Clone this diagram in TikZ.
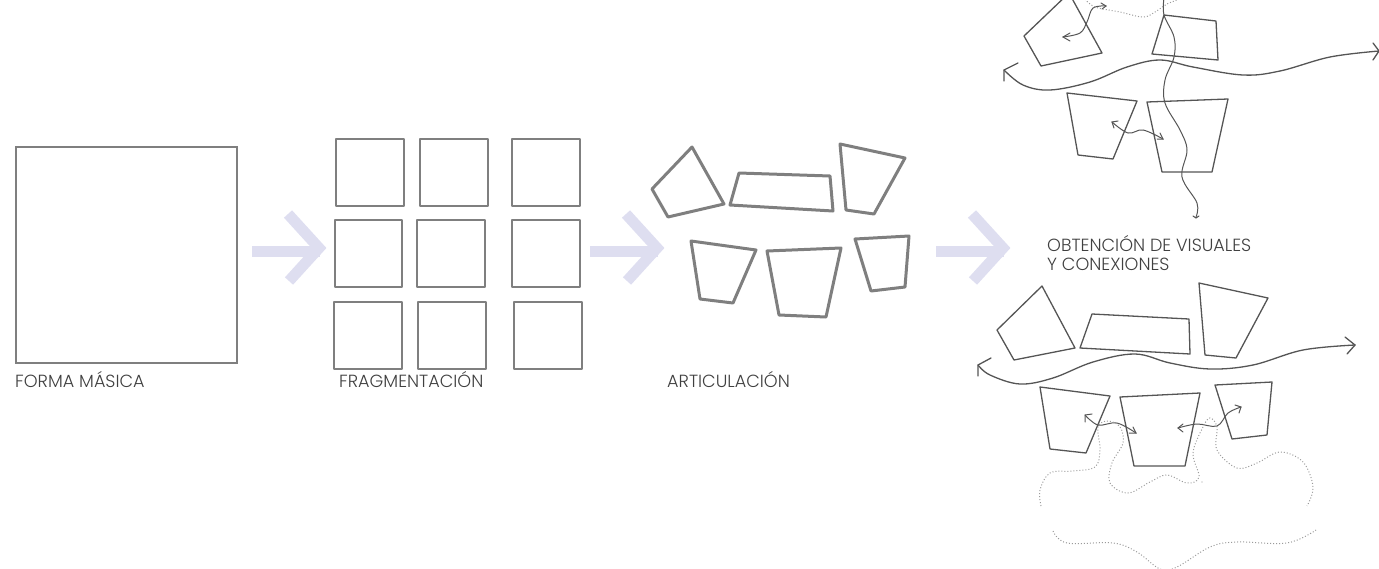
\documentclass[tikz,border=0pt]{standalone}
\usepackage{fontspec}
\setmainfont{Poppins Light}
\definecolor{lav}{HTML}{DEDEF0}
\definecolor{thickg}{HTML}{7F7F7F}
\definecolor{thing}{HTML}{555555}
\definecolor{dotg}{HTML}{9A9A9A}
\tikzset{
  sq/.style={draw=thickg,line width=2.6pt,line join=miter},
  frag/.style={draw=thickg,line width=2.6pt,line join=round},
  art/.style={draw=thickg,line width=3pt,line join=round},
  thin poly/.style={draw=thing,line width=1.3pt,line join=round},
  flow/.style={draw=thing,line width=1.3pt,line cap=round},
  slim/.style={draw=thing,line width=1pt,line cap=round},
  dots/.style={draw=dotg,line width=1pt,dash pattern=on 1pt off 2pt},
  big arrow/.style={draw=lav,line width=11pt},
  lbl/.style={anchor=base west,inner sep=0pt,font=\fontsize{17.6}{20}\selectfont,text=black!75},
}
\begin{document}
\begin{tikzpicture}[x=1pt,y=-1pt]
\useasboundingbox (0,0) rectangle (1379,568);
\clip (0,0) rectangle (1379,568);
% big square
\draw[sq] (16,147) rectangle (237,363);
% fragments
\foreach \x/\y/\w/\h in {336/139/68/67,420/139/68/67,512/139/68/67,335/220/67/67,417/220/68/67,512/220/68/67,334/302/68/67,418/302/68/67,514/302/68/67}
  \draw[frag] (\x,\y) rectangle ++(\w,\h);
% lavender arrows
\foreach \x in {252,590,936}{
  \draw[big arrow] (\x,251.5) -- ++(68,0);
  \draw[big arrow,line join=miter] (\x+36,214) -- (\x+67,248) -- (\x+37,281);
}
% articulation
\draw[art] (692,147)--(724,204)--(668,217)--(652,189)--cycle;
\draw[art] (739,173)--(830,176)--(833,211)--(730,205)--cycle;
\draw[art] (840,144)--(905,158)--(874,214)--(846,210)--cycle;
\draw[art] (691,241)--(756,250)--(733,303)--(700,299)--cycle;
\draw[art] (767,251)--(841,248)--(826,317)--(779,315)--cycle;
\draw[art] (855,239)--(909,236)--(905,287)--(871,291)--cycle;
% top-right polygons
\draw[thin poly] (1069,-7)--(1102,53)--(1041,66)--(1024,36)--cycle;
\draw[thin poly] (1164,15)--(1216,21)--(1218,60)--(1152,54)--cycle;
\draw[thin poly] (1067,93)--(1137,101)--(1113,159)--(1078,155)--cycle;
\draw[thin poly] (1147,102)--(1228,99)--(1212,172)--(1162,172)--cycle;
% top flows
\draw[flow] plot[smooth,tension=.6] coordinates {(1004,70)(1023,85)(1050,90)(1090,82)(1127,67)(1160,60)(1193,67)(1243,75)(1280,71)(1330,57)(1379,51)};
\draw[flow] (1018,63)--(1004,70)--(1004,81);
\draw[flow] (1373,43)--(1379,51)--(1373,60);
\draw[slim] plot[smooth,tension=.6] coordinates {(1164,-2)(1164,15)(1174,37)(1174,57)(1165,80)(1165,103)(1180,130)(1187,150)(1182,177)(1197,203)(1196,217)};
\draw[slim] (1193,216)--(1196,218)--(1199,216);
\draw[slim] plot[smooth,tension=.6] coordinates {(1063,37)(1080,33)(1087,22)(1093,8)(1106,6)};
\draw[slim] (1070,33)--(1063,37)--(1070,41);
\draw[slim] (1101,3)--(1106,6)--(1102,9);
\draw[slim] plot[smooth,tension=.6] coordinates {(1112,122)(1128,133)(1143,130)(1163,139)};
\draw[slim] (1118,121)--(1112,122)--(1114,128);
\draw[slim] (1160,133)--(1163,139)--(1157,139);
\draw[dots] plot[smooth,tension=.6] coordinates {(1085,-1)(1095,7)(1120,12)(1143,17)(1155,12)(1167,4)(1180,-1)};
% lower polygons
\draw[thin poly] (1042,286)--(1075,348)--(1014,360)--(997,330)--cycle;
\draw[thin poly] (1092,314)--(1189,319)--(1190,354)--(1080,348)--cycle;
\draw[thin poly] (1199,283)--(1268,298)--(1236,358)--(1205,355)--cycle;
\draw[thin poly] (1040,387)--(1110,396)--(1086,453)--(1050,449)--cycle;
\draw[thin poly] (1120,397)--(1200,393)--(1185,466)--(1134,466)--cycle;
\draw[thin poly] (1215,385)--(1272,382)--(1267,435)--(1232,439)--cycle;
% lower flows
\draw[flow] plot[smooth,tension=.6] coordinates {(978,365)(990,375)(1020,384)(1053,378)(1093,362)(1135,354)(1170,363)(1210,369)(1253,365)(1303,350)(1355,345)};
\draw[flow] (991,358)--(978,365)--(978,376);
\draw[flow] (1345,337)--(1355,345)--(1347,354);
\draw[slim] plot[smooth,tension=.6] coordinates {(1085,415)(1098,425)(1117,423)(1136,433)};
\draw[slim] (1085,422)--(1085,415)--(1092,414);
\draw[slim] (1129,433)--(1136,433)--(1133,427);
\draw[slim] plot[smooth,tension=.6] coordinates {(1178,428)(1197,424)(1217,426)(1228,413)(1241,407)};
\draw[slim] (1183,424)--(1178,428)--(1183,432);
\draw[slim] (1235,405)--(1241,407)--(1239,413);
\draw[dots] plot[smooth,tension=.6] coordinates {(1041,506)(1040,490)(1050,473)(1073,471)(1095,467)(1100,450)(1098,427)(1108,421)(1120,427)(1123,443)(1112,463)(1110,483)(1128,493)(1150,482)(1167,475)(1187,483)(1199,477)(1193,453)(1203,427)(1210,418)(1217,427)(1217,450)(1237,468)(1257,463)(1280,452)(1303,462)(1313,487)(1307,506)};
\draw[dots] plot[smooth,tension=.6] coordinates {(1053,531)(1067,543)(1113,543)(1137,552)(1160,569)(1177,567)(1210,547)(1237,542)(1287,543)(1316,530)};
\fill[dotg] (1202,482) circle (.6);
% labels
\node[lbl] (forma) at (15,387) {FORMA MÁSICA};
\node[lbl] (frag) at (339,387) {FRAGMENTACIÓN};
\node[lbl] (arti) at (667,387) {ARTICULACIÓN};
\node[lbl] (obt1) at (1047,251) {OBTENCIÓN DE VISUALES};
\node[lbl] (obt2) at (1047,270) {Y CONEXIONES};
\end{tikzpicture}
\end{document}
